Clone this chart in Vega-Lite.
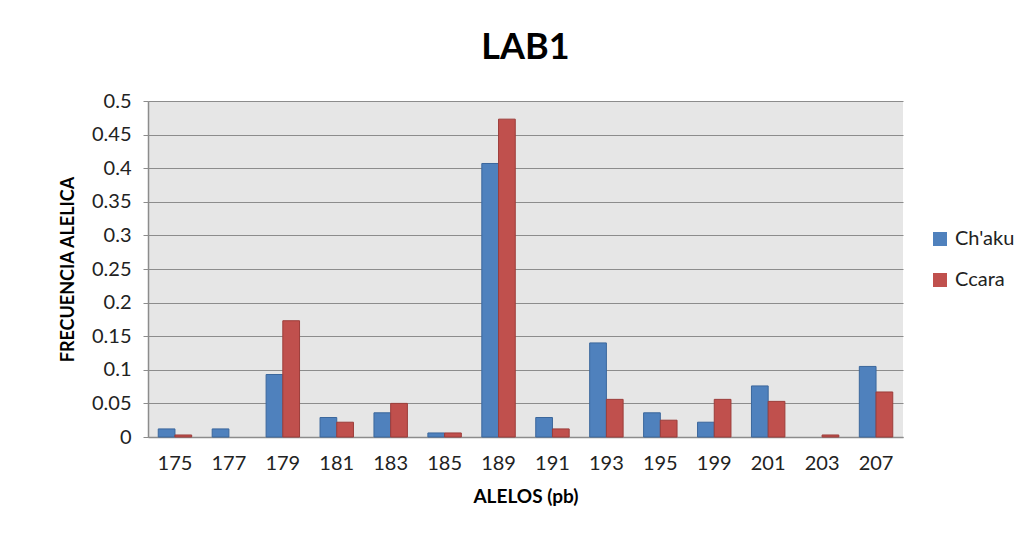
{
  "$schema": "https://vega.github.io/schema/vega-lite/v6.json",
  "width": 755,
  "height": 336,
  "autosize": {"type": "none"},
  "padding": {"left": 148, "top": 101, "right": 127, "bottom": 103},
  "background": "white",
  "title": {"text": "LAB1", "fontSize": 36, "font": "Lato", "fontWeight": "bold", "color": "#000000", "anchor": "middle", "offset": 24},
  "data": {"values": [
    {"alelo": "175", "pob": "Ch'aku", "f": 0.012},
    {"alelo": "175", "pob": "Ccara", "f": 0.003},
    {"alelo": "177", "pob": "Ch'aku", "f": 0.012},
    {"alelo": "177", "pob": "Ccara", "f": 0},
    {"alelo": "179", "pob": "Ch'aku", "f": 0.093},
    {"alelo": "179", "pob": "Ccara", "f": 0.173},
    {"alelo": "181", "pob": "Ch'aku", "f": 0.029},
    {"alelo": "181", "pob": "Ccara", "f": 0.022},
    {"alelo": "183", "pob": "Ch'aku", "f": 0.036},
    {"alelo": "183", "pob": "Ccara", "f": 0.05},
    {"alelo": "185", "pob": "Ch'aku", "f": 0.006},
    {"alelo": "185", "pob": "Ccara", "f": 0.006},
    {"alelo": "189", "pob": "Ch'aku", "f": 0.407},
    {"alelo": "189", "pob": "Ccara", "f": 0.473},
    {"alelo": "191", "pob": "Ch'aku", "f": 0.029},
    {"alelo": "191", "pob": "Ccara", "f": 0.012},
    {"alelo": "193", "pob": "Ch'aku", "f": 0.14},
    {"alelo": "193", "pob": "Ccara", "f": 0.056},
    {"alelo": "195", "pob": "Ch'aku", "f": 0.036},
    {"alelo": "195", "pob": "Ccara", "f": 0.025},
    {"alelo": "199", "pob": "Ch'aku", "f": 0.022},
    {"alelo": "199", "pob": "Ccara", "f": 0.056},
    {"alelo": "201", "pob": "Ch'aku", "f": 0.076},
    {"alelo": "201", "pob": "Ccara", "f": 0.053},
    {"alelo": "203", "pob": "Ch'aku", "f": 0},
    {"alelo": "203", "pob": "Ccara", "f": 0.003},
    {"alelo": "207", "pob": "Ch'aku", "f": 0.105},
    {"alelo": "207", "pob": "Ccara", "f": 0.067}
  ]},
  "mark": {"type": "bar", "strokeWidth": 1},
  "encoding": {
    "x": {
      "field": "alelo", "type": "nominal", "sort": null,
      "scale": {"paddingInner": 0.38, "paddingOuter": 0.19},
      "axis": {"title": "ALELOS (pb)", "labelAngle": 0, "ticks": false, "labelPadding": 16,
        "labelFont": "Lato", "labelFontSize": 20, "labelColor": "#222222",
        "titleFont": "Lato", "titleFontSize": 19, "titleFontWeight": "bold", "titleColor": "#000000", "titlePadding": 14,
        "domainColor": "#8c8c8c", "domainWidth": 1.5, "grid": false}
    },
    "xOffset": {"field": "pob", "type": "nominal", "sort": ["Ch'aku", "Ccara"], "scale": {"paddingInner": 0, "paddingOuter": 0}},
    "y": {
      "field": "f", "type": "quantitative",
      "scale": {"domain": [0, 0.5], "nice": false},
      "axis": {"title": "FRECUENCIA ALELICA", "values": [0, 0.05, 0.1, 0.15, 0.2, 0.25, 0.3, 0.35, 0.4, 0.45, 0.5],
        "format": "~g", "tickSize": 5, "tickColor": "#8c8c8c", "labelPadding": 12,
        "labelFont": "Lato", "labelFontSize": 20, "labelColor": "#222222",
        "titleFont": "Lato", "titleFontSize": 18, "titleFontWeight": "bold", "titleColor": "#000000", "titlePadding": 14,
        "domainColor": "#8c8c8c", "domainWidth": 1.5,
        "grid": true, "gridColor": "#8c8c8c", "gridWidth": 1.2}
    },
    "color": {
      "field": "pob", "type": "nominal", "sort": ["Ch'aku", "Ccara"],
      "scale": {"domain": ["Ch'aku", "Ccara"], "range": ["#4f81bd", "#c0504d"]},
      "legend": {"title": null, "orient": "none", "legendX": 782, "legendY": 128,
        "symbolType": "square", "symbolSize": 196, "symbolStrokeWidth": 0, "rowPadding": 21,
        "labelFont": "Lato", "labelFontSize": 20, "labelColor": "#222222", "labelOffset": 5}
    },
    "stroke": {
      "field": "pob", "type": "nominal",
      "scale": {"domain": ["Ch'aku", "Ccara"], "range": ["#3b679c", "#9c3d3a"]},
      "legend": null
    },
    "strokeOpacity": {
      "condition": {"test": "datum.f <= 0", "value": 0},
      "value": 1
    }
  },
  "config": {
    "view": {"fill": "#e6e6e6", "stroke": null},
    "axis": {"gridOpacity": 1}
  }
}
